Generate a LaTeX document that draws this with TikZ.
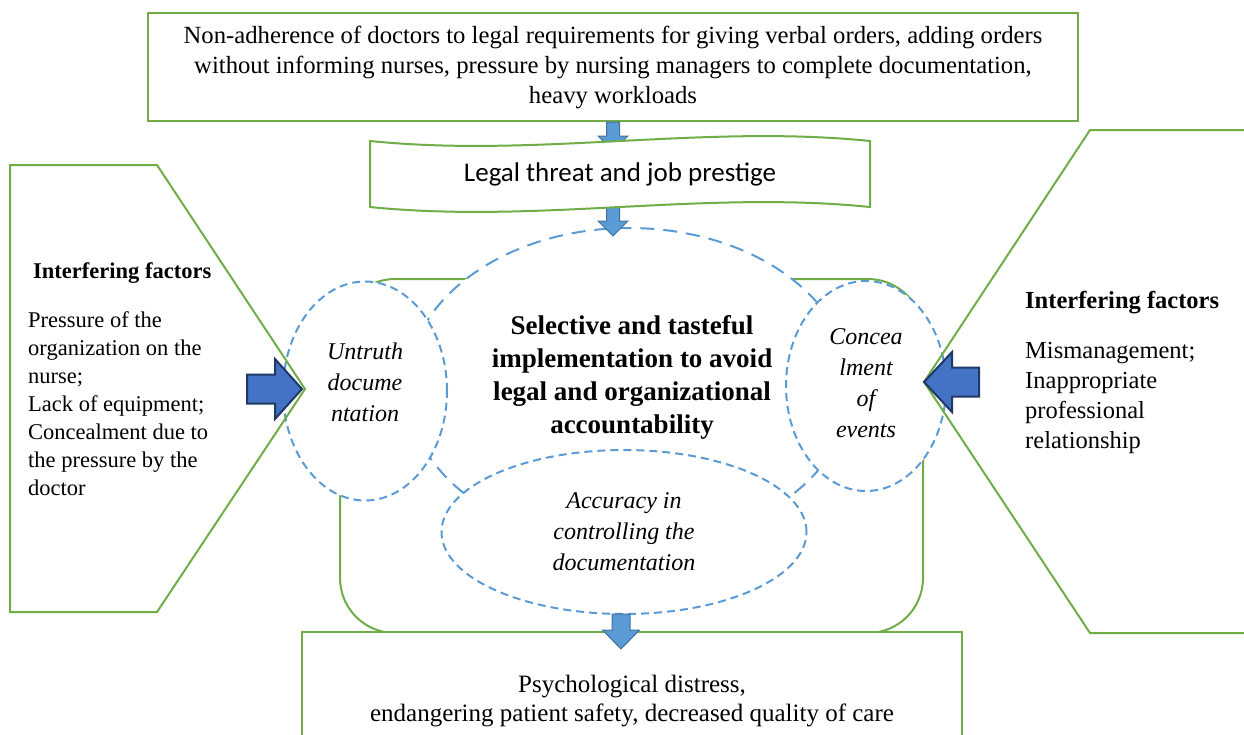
\documentclass[tikz,border=0pt]{standalone}
\usepackage{fontspec}
\setmainfont{Liberation Serif}
\newfontfamily\calibri{Carlito}
\usetikzlibrary{shapes,calc}
\definecolor{leafgreen}{HTML}{70AD47}
\definecolor{skyblue}{HTML}{5B9BD5}
\definecolor{skyedge}{HTML}{41719C}
\definecolor{royal}{HTML}{4472C4}
\definecolor{navy}{HTML}{203864}
\tikzstyle{greenline}=[draw=leafgreen, line width=2pt]
\tikzstyle{greenbox}=[draw=leafgreen, line width=2pt, fill=white]
\tikzstyle{bubble}=[ellipse, draw=skyblue, fill=white, line width=2pt, dash pattern=on 8pt off 5pt, inner sep=0pt]
\tikzstyle{blurb}=[align=center, font=\itshape\fontsize{24}{31}\selectfont]
\tikzstyle{downarrow}=[fill=skyblue, draw=skyedge, line width=1pt]
\tikzstyle{sidearrow}=[fill=royal, draw=navy, line width=2pt]
\tikzstyle{factor}=[anchor=west, align=left, inner sep=0pt]

\begin{document}
\begin{tikzpicture}[x=1pt,y=-1pt]
                    \useasboundingbox (0,0) rectangle (1244,734);

                    \path[greenline, rounded corners=55pt] (340,279) rectangle (923,633);

                    \node[bubble, minimum width=444pt, minimum height=318pt, dash pattern=on 14pt off 9pt] (core) at (629,387) {};
                    \node[bubble, minimum width=164pt, minimum height=219pt,
                          label={[blurb, yshift=9pt]center:{Untruth\\docume\\ntation}}] (untruth) at (365,391) {};
                    \node[bubble, minimum width=160pt, minimum height=210pt,
                          label={[blurb, yshift=3pt]center:{Concea\\lment\\of\\events}}] (conceal) at (866,386) {};
                    \node[bubble, minimum width=365pt, minimum height=164pt,
                          label={[blurb]center:{Accuracy in\\controlling the\\documentation}}] (accuracy) at (624,532) {};

                    \node[align=center, font=\bfseries\fontsize{27}{33}\selectfont] (goal) at (632,377)
                          {Selective and tasteful\\implementation to avoid\\legal and organizational\\accountability};

                    \coordinate (lapex) at (305,389);
                    \path[greenline] (10,165) -- (157,165) -- (lapex) -- (157,612) -- (10,612) -- cycle;
                    \node[factor, font=\bfseries\fontsize{22.5}{28}\selectfont] (ltitle) at (33,273) {Interfering factors};
                    \node[factor, font=\fontsize{22.5}{28}\selectfont] (lbody) at (28,404)
                          {Pressure of the\\organization on the\\nurse;\\Lack of equipment;\\Concealment due to\\the pressure by the\\doctor};

                    \coordinate (rapex) at (924,382);
                    \path[greenline] (1250,130) -- (1090,130) -- (rapex) -- (1090,633) -- (1250,633);
                    \node[factor, font=\bfseries\fontsize{24.5}{30}\selectfont] (rtitle) at (1025,303) {Interfering factors};
                    \node[factor, font=\fontsize{24.5}{30}\selectfont] (rbody) at (1025,398)
                          {Mismanagement;\\Inappropriate\\professional\\relationship};

                    \node[greenbox, minimum width=930pt, minimum height=108pt, align=center, font=\fontsize{24.7}{30}\selectfont] (cause) at (613,67)
                          {Non-adherence of doctors to legal requirements for giving verbal orders, adding orders\\without informing nurses, pressure by nursing managers to complete documentation,\\heavy workloads};

                    \coordinate (wtl) at (370,141);
                    \coordinate (wtr) at (870,141);
                    \coordinate (wbr) at (870,207);
                    \coordinate (wbl) at (370,207);
                    \path[downarrow, shift={(cause.south)}] (-6.5,0) -- (6.5,0) -- (6.5,14) -- (15,14) -- (0,29) -- (-15,14) -- (-6.5,14) -- cycle;
                    \path[downarrow, shift={(cause.south |- wbl)}] (-6.5,-3) -- (6.5,-3) -- (6.5,14) -- (15,14) -- (0,29) -- (-15,14) -- (-6.5,14) -- cycle;
                    \path[greenbox] (wtl) .. controls (537,158) and (703,124) .. (wtr) -- (wbr) .. controls (703,190) and (537,224) .. (wbl) -- cycle;
                    \node[font=\calibri\fontsize{27}{32}\selectfont] (threat) at (620,174) {Legal threat and job prestige};

                    \node[greenbox, minimum width=660pt, minimum height=113pt,
                          label={[align=center, yshift=-13pt, font=\fontsize{25}{29}\selectfont]center:{Psychological distress,\\endangering patient safety, decreased quality of care}}] (effect) at (632,688.5) {};
                    \path[downarrow, shift={($(accuracy.south)+(-3,-1)$)}] (-9,0) -- (9,0) -- (9,16) -- (18.5,16) -- (0,35) -- (-18.5,16) -- (-9,16) -- cycle;

                    \path[sidearrow, shift={(lapex)}] (-3,0) -- (-30,-30) -- (-30,-14.5) -- (-58,-14.5) -- (-58,14.5) -- (-30,14.5) -- (-30,30) -- cycle;
                    \path[sidearrow, shift={(rapex)}] (0,0) -- (28,-30) -- (28,-14.5) -- (55,-14.5) -- (55,14.5) -- (28,14.5) -- (28,30) -- cycle;
                \end{tikzpicture}
\end{document}
